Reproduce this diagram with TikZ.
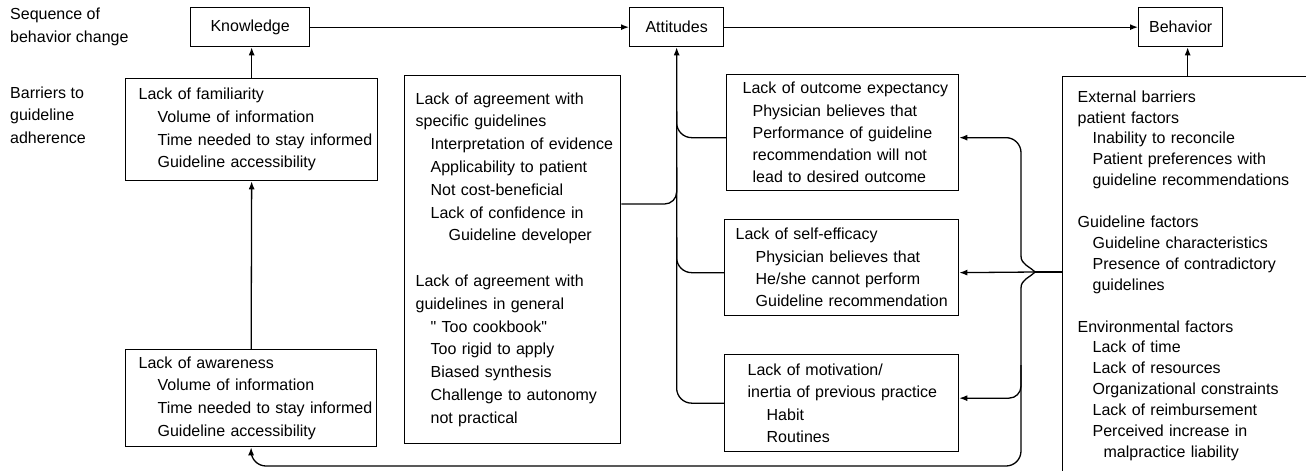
\documentclass[tikz,border=0pt]{standalone}
\usepackage{fontspec}
\setmainfont{Liberation Sans}[Ligatures=TeXOff]
\usetikzlibrary{arrows.meta,calc}
\newcommand\bxl[2]{\hspace*{#1pt}\mbox{#2}}
\begin{document}
\begin{tikzpicture}[x=1pt,y=-1pt,
  every node/.style={font=\fontsize{16}{22.6}\selectfont},
  ln/.style={line width=1.3pt},
  arr/.style={ln,-{Latex[length=8pt,width=6pt]}},
  headbox/.style={draw,ln,minimum height=39pt,inner sep=0pt,anchor=north west},
  barrier/.style={draw,ln,anchor=north west,inner ysep=0pt,align=left},
  lbl/.style={anchor=west,align=left,inner sep=0pt}
]
\fill[white] (0,0) rectangle (1306,471);
\useasboundingbox (0,0) rectangle (1306,471);

% left labels
\node[lbl] (seq) at (10,27) {Sequence of\\behavior change};
\node[lbl] (bar) at (10,115) {Barriers to\\guideline\\adherence};

% sequence boxes
\node[headbox,minimum width=119pt] (K) at (190,7) {Knowledge};
\node[headbox,minimum width=94pt] (A) at (629,7) {Attitudes};
\node[headbox,minimum width=84pt] (B) at (1138,7) {Behavior};

% barrier boxes
\node[barrier,minimum width=252pt,minimum height=102pt,inner xsep=13pt,text width=226pt] (fam) at (125,78)
 {\bxl{0}{Lack of familiarity}\\\bxl{19}{Volume of information}\\\bxl{19}{Time needed to stay informed}\\\bxl{19}{Guideline accessibility}};
\node[barrier,minimum width=251pt,minimum height=97pt,inner xsep=13pt,text width=225pt] (awa) at (125,349)
 {\bxl{0}{Lack of awareness}\\\bxl{19}{Volume of information}\\\bxl{19}{Time needed to stay informed}\\\bxl{19}{Guideline accessibility}};
\node[barrier,minimum width=216pt,minimum height=368pt,inner xsep=11pt,text width=194pt,font=\fontsize{16}{22.8}\selectfont] (agr) at (404,75)
 {\bxl{0}{Lack of agreement with}\\\bxl{0}{specific guidelines}\\\bxl{15}{Interpretation of evidence}\\\bxl{15}{Applicability to patient}\\\bxl{15}{Not cost-beneficial}\\\bxl{15}{Lack of confidence in}\\\bxl{33}{Guideline developer}\\[22.8pt]
  \bxl{0}{Lack of agreement with}\\\bxl{0}{guidelines in general}\\\bxl{15}{" Too cookbook"}\\\bxl{15}{Too rigid to apply}\\\bxl{15}{Biased synthesis}\\\bxl{15}{Challenge to autonomy}\\\bxl{15}{not practical}};
\node[barrier,minimum width=232pt,minimum height=116pt,inner xsep=16pt,text width=200pt,font=\fontsize{16}{22.2}\selectfont] (out) at (726,74)
 {\bxl{0}{Lack of outcome expectancy}\\\bxl{10}{Physician believes that}\\\bxl{10}{Performance of guideline}\\\bxl{10}{recommendation will not}\\\bxl{10}{lead to desired outcome}};
\node[barrier,minimum width=234pt,minimum height=96pt,inner xsep=11pt,text width=212pt,font=\fontsize{16}{22.3}\selectfont] (eff) at (724,219)
 {\bxl{0}{Lack of self-efficacy}\\\bxl{20}{Physician believes that}\\\bxl{20}{He/she cannot perform}\\\bxl{20}{Guideline recommendation}};
\node[barrier,minimum width=234pt,minimum height=97pt,inner xsep=23pt,text width=188pt,font=\fontsize{16}{22.3}\selectfont] (mot) at (724,354)
 {\bxl{0}{Lack of motivation/}\\\bxl{0}{inertia of previous practice}\\\bxl{19}{Habit}\\\bxl{19}{Routines}};
\node[barrier,minimum width=270pt,minimum height=398pt,inner xsep=15pt,text width=240pt,font=\fontsize{16}{20.9}\selectfont] (ext) at (1062,76)
 {\bxl{0}{External barriers}\\\bxl{0}{patient factors}\\\bxl{15}{Inability to reconcile}\\\bxl{15}{Patient preferences with}\\\bxl{15}{guideline recommendations}\\[20.9pt]
  \bxl{0}{Guideline factors}\\\bxl{15}{Guideline characteristics}\\\bxl{15}{Presence of contradictory}\\\bxl{15}{guidelines}\\[20.9pt]
  \bxl{0}{Environmental factors}\\\bxl{15}{Lack of time}\\\bxl{15}{Lack of resources}\\\bxl{15}{Organizational constraints}\\\bxl{15}{Lack of reimbursement}\\\bxl{15}{Perceived increase in}\\\bxl{26}{malpractice liability}};

% sequence arrows
\draw[arr] (K) -- (A);
\draw[arr] (A) -- (B);
\draw[arr] (fam.north) -- (fam.north |- K.south);
\draw[arr] (awa.north) -- (fam.south);
\coordinate (bIn) at ([xshift=7pt]B.south);
\draw[arr] (ext.north -| bIn) -- (bIn);

% attitudes trunk and merges
\draw[arr,rounded corners=15pt] (mot.west) -| (A.south);
\draw[ln,rounded corners=15pt] ([yshift=-5pt]out.west) -| ($(A.south)+(0,64)$);
\draw[ln,rounded corners=15pt] ([yshift=-5pt]eff.west) -| ($(A.south)+(0,190)$);
\draw[ln,rounded corners=12pt] ($(agr.north east)+(0,129)$) -| ($(A.south)+(0,120)$);

% external barriers feedback brace
\coordinate (tip) at (1035,272);
\coordinate (bu) at (1021,256);
\coordinate (bd) at (1021,288);
\coordinate (bm) at (1021,365);
\coordinate (bl) at (251,466);
\draw[ln] (ext.west |- tip) -- (tip);
\draw[arr] (tip) -- ([yshift=-5pt]eff.east);
\draw[ln] (tip) to[out=135,in=-90] (bu);
\draw[ln] (tip) to[out=-135,in=90] (bd);
\draw[arr,rounded corners=15pt] (bu) |- ([yshift=-5pt]out.east);
\draw[arr,rounded corners=12pt] (bm) |- ([yshift=5pt]mot.east);
\draw[arr,rounded corners=15pt] (bd) |- (bl) -- (awa.south);
\end{tikzpicture}
\end{document}
